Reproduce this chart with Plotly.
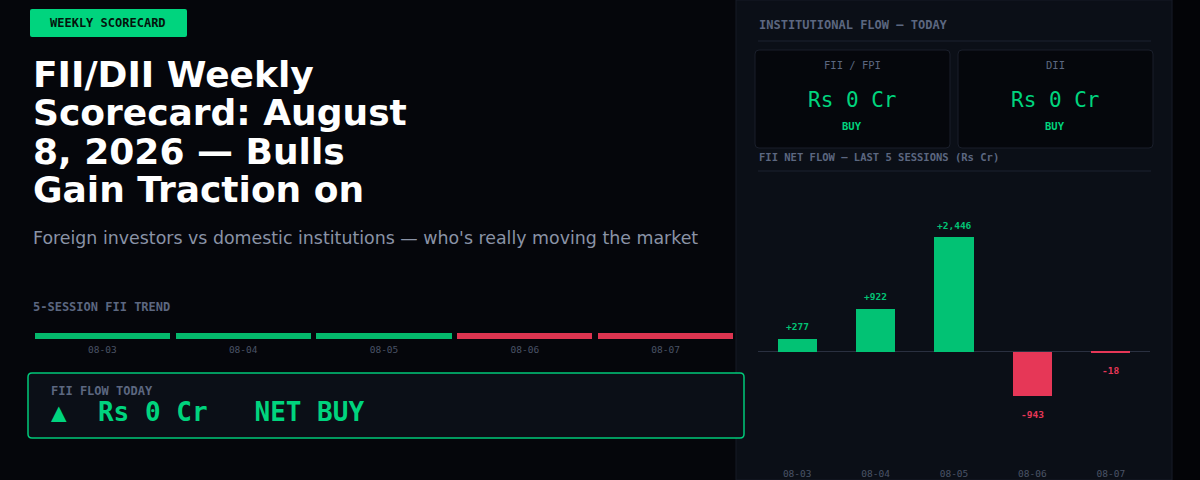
import plotly.graph_objects as go

# --- data ---
sessions = ["08-03", "08-04", "08-05", "08-06", "08-07"]
fii_net_flow = [277, 922, 2446, -943, -18]   # Rs Cr
fii_today = 0
dii_today = 0
fii_today_side = "BUY"
dii_today_side = "BUY"

title_lines = ["FII/DII Weekly", "Scorecard: August", "8, 2026 — Bulls", "Gain Traction on"]
subtitle = "Foreign investors vs domestic institutions — who's really moving the market"

W, H = 1200, 480
BG = "#05060b"
PANEL = "#0b0f17"
GREEN = "#02c274"
RED = "#e63757"
BRIGHT = "#00d47e"
MUTED = "#5c6780"
TICK = "#4a5366"
MONO = "DejaVu Sans Mono"
SANS = "DejaVu Sans"


def px(x):
    return x / W


def py(y):
    return 1 - y / H


def rrect(x0, y0, x1, y1, r=4):
    # rounded rect path in paper coords from pixel box
    rx, ry = r / W, r / H
    a, b, c, d = px(x0), py(y0), px(x1), py(y1)
    return (f"M {a+rx},{b} L {c-rx},{b} Q {c},{b} {c},{b-ry} "
            f"L {c},{d+ry} Q {c},{d} {c-rx},{d} L {a+rx},{d} "
            f"Q {a},{d} {a},{d+ry} L {a},{b-ry} Q {a},{b} {a+rx},{b} Z")


colors = [GREEN if v >= 0 else RED for v in fii_net_flow]
trend_colors = ["#04b86c" if v >= 0 else "#dd3450" for v in fii_net_flow]

fig = go.Figure()

# main bar chart (right panel)
fig.add_trace(go.Bar(
    x=sessions, y=fii_net_flow, marker_color=colors, marker_line_width=0,
    width=0.5, xaxis="x", yaxis="y", hoverinfo="skip", cliponaxis=False,
))

# 5-session trend strip (left)
fig.add_trace(go.Bar(
    x=sessions, y=[1] * len(sessions), marker_color=trend_colors, marker_line_width=0,
    width=0.96, xaxis="x2", yaxis="y2", hoverinfo="skip",
))

shapes = [
    # right panel
    dict(type="rect", xref="paper", yref="paper", x0=px(736), x1=px(1172), y0=0, y1=1,
         fillcolor=PANEL, line=dict(color="#161b26", width=1), layer="below"),
    dict(type="rect", xref="paper", yref="paper", x0=px(1173), x1=1, y0=0, y1=1,
         fillcolor="#030407", line_width=0, layer="below"),
    dict(type="line", xref="paper", yref="paper", x0=px(758), x1=px(1151), y0=py(41), y1=py(41),
         line=dict(color="#1c2230", width=1), layer="below"),
    dict(type="line", xref="paper", yref="paper", x0=px(758), x1=px(1151), y0=py(171), y1=py(171),
         line=dict(color="#1c2230", width=1), layer="below"),
    # cards
    dict(type="path", xref="paper", yref="paper", path=rrect(755, 50, 950, 148),
         fillcolor="#05070c", line=dict(color="#1a1f2b", width=1), layer="below"),
    dict(type="path", xref="paper", yref="paper", path=rrect(958, 50, 1153, 148),
         fillcolor="#05070c", line=dict(color="#1a1f2b", width=1), layer="below"),
    # tag
    dict(type="path", xref="paper", yref="paper", path=rrect(30, 9, 187, 37, 2),
         fillcolor=BRIGHT, line_width=0, layer="below"),
    # FII flow today box
    dict(type="path", xref="paper", yref="paper", path=rrect(28, 373, 744, 438, 4),
         fillcolor=PANEL, line=dict(color="#00c97a", width=1.5), layer="below"),
]

ann = []


def text(x, y, s, size, color, family=MONO, anchor="left", bold=False):
    if bold:
        s = f"<b>{s}</b>"
    ann.append(dict(xref="paper", yref="paper", x=px(x), y=py(y), text=s, showarrow=False,
                    xanchor=anchor, yanchor="middle",
                    font=dict(family=family, size=size, color=color)))


text(108, 23, "WEEKLY SCORECARD", 12, "#04140c", anchor="center", bold=True)
for i, line in enumerate(title_lines):
    text(31, 74.5 + i * 38.4, line, 36, "#ffffff", family=SANS, bold=True)
text(31, 238, subtitle, 17.4, "#8a93a6", family=SANS)
text(31, 307, "5-SESSION FII TREND", 12, MUTED, bold=True)
text(49, 391, "FII FLOW TODAY", 12, MUTED, bold=True)
flow_word = "NET BUY" if fii_today >= 0 else "NET SELL"
arrow = "▲" if fii_today >= 0 else "▼"
text(49, 412, f"{arrow}  Rs {fii_today:,} Cr   {flow_word}", 26, BRIGHT, bold=True)

text(757, 25, "INSTITUTIONAL FLOW — TODAY", 12, MUTED, bold=True)
for cx, name, val, side in [(852, "FII / FPI", fii_today, fii_today_side),
                            (1055, "DII", dii_today, dii_today_side)]:
    text(cx, 65, name, 10.5, MUTED, anchor="center")
    text(cx, 100, f"Rs {val:,} Cr", 21, BRIGHT, anchor="center")
    text(cx, 126, side, 10.5, BRIGHT, anchor="center", bold=True)
text(757, 157, "FII NET FLOW — LAST 5 SESSIONS (Rs Cr)", 10.5, MUTED, bold=True)

# bar value labels, placed through the data axes
for s, v, c in zip(sessions, fii_net_flow, colors):
    ann.append(dict(xref="x", yref="y", x=s, y=v, text=f"<b>{v:+,}</b>", showarrow=False,
                    yanchor="middle", yshift=12 if v >= 0 else -18,
                    font=dict(family=MONO, size=9.5, color=c)))

fig.update_layout(
    width=W, height=H,
    margin=dict(l=0, r=0, t=0, b=0),
    paper_bgcolor=BG, plot_bgcolor="rgba(0,0,0,0)",
    showlegend=False,
    shapes=shapes, annotations=ann,
    xaxis=dict(domain=[px(758), px(1150)], type="category", showgrid=False, zeroline=False,
               showline=False, tickfont=dict(family=MONO, size=9.5, color=TICK), ticks="",
               ticklabelstandoff=6, fixedrange=True),
    yaxis=dict(domain=[py(460), py(190)], range=[-2300, 3447], showgrid=False,
               zeroline=True, zerolinecolor="#2a3040", zerolinewidth=1,
               showticklabels=False, fixedrange=True),
    xaxis2=dict(domain=[px(32), px(736)], anchor="y2", type="category", showgrid=False,
                zeroline=False, tickfont=dict(family=MONO, size=9.5, color=TICK), ticks="",
                ticklabelstandoff=3),
    yaxis2=dict(domain=[py(339), py(333)], anchor="x2", range=[0, 1], visible=False),
    bargap=0,
)

fig.write_html("out.html", config={"displayModeBar": False},
               post_script="document.body.style.margin='0';document.body.style.background='#05060b';")
